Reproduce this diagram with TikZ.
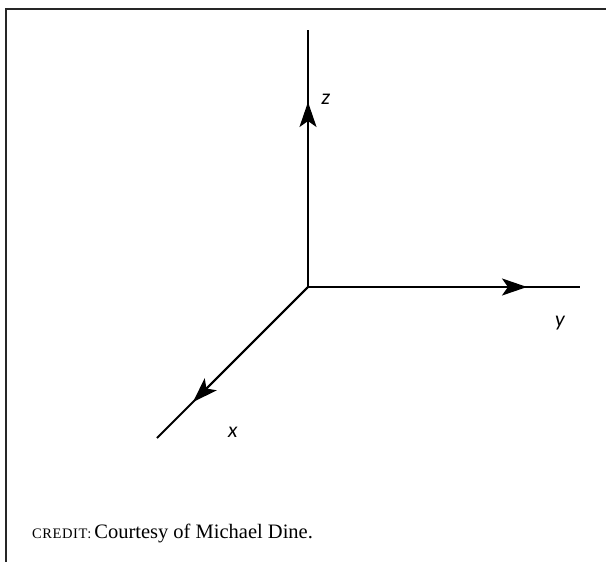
\documentclass[tikz,border=0pt]{standalone}
\usepackage{fontspec}
\setmainfont{Liberation Serif}
\newfontfamily\labelfont{Lato}
\usetikzlibrary{arrows.meta}
\begin{document}
\begin{tikzpicture}[x=1pt,y=-1pt,
  axis/.style={line width=2pt,black},
  axhead/.style={line width=2pt,-{Stealth[length=25pt,width=17pt,inset=6pt]}},
  frameline/.style={line width=2.2pt,color=black!85},
  axlabel/.style={font=\labelfont\itshape\fontsize{20.5}{20.5}\selectfont,inner sep=0pt}]
\useasboundingbox (0,0) rectangle (606,562);
% frame
\draw[frameline] (6,562) -- (6,9) -- (606,9);
% axes
\coordinate (o) at (308,287);
\coordinate (zend) at (308,30);
\coordinate (yend) at (580,287);
\coordinate (xend) at (157,438);
\coordinate (ztip) at (308,102);
\coordinate (ytip) at (527,287);
\coordinate (xtip) at (193,402);
\draw[axis] (o) -- (zend);
\draw[axis] (o) -- (yend);
\draw[axis] (o) -- (xend);
\draw[axhead] (o) -- (ztip);
\draw[axhead] (o) -- (ytip);
\draw[axhead] (o) -- (xtip);
\node[axlabel] (zl) at (326,99) {z};
\node[axlabel] (yl) at (560,323) {y};
\node[axlabel] (xl) at (233,432) {x};
% credit
\node[anchor=base west,inner sep=0pt] (credit) at (32,538)
  {{\fontsize{14.5}{15}\selectfont\addfontfeature{LetterSpace=4}CREDIT:}\hspace{3pt}{\fontsize{20.5}{22}\selectfont Courtesy of Michael Dine.}};
\end{tikzpicture}
\end{document}
